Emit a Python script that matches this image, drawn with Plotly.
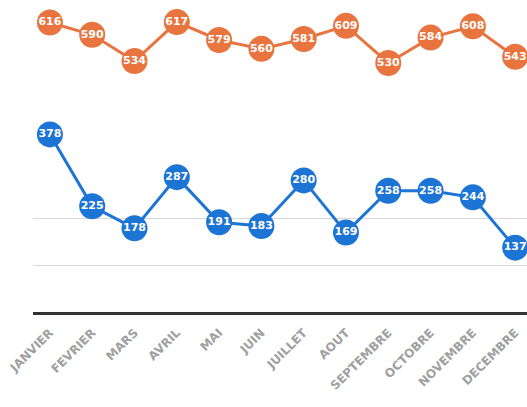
import plotly.graph_objects as go

months = ["JANVIER", "FEVRIER", "MARS", "AVRIL", "MAI", "JUIN", "JUILLET",
          "AOUT", "SEPTEMBRE", "OCTOBRE", "NOVEMBRE", "DECEMBRE"]
orange_vals = [616, 590, 534, 617, 579, 560, 581, 609, 530, 584, 608, 543]
blue_vals = [378, 225, 178, 287, 191, 183, 280, 169, 258, 258, 244, 137]

x = list(range(len(months)))

fig = go.Figure()
for vals, col in [(orange_vals, "#E8743F"), (blue_vals, "#1C74D4")]:
    fig.add_trace(go.Scatter(
        x=x, y=vals, mode="lines+markers+text",
        line=dict(color=col, width=3),
        marker=dict(color=col, size=26),
        text=["<b>%d</b>" % v for v in vals], textposition="middle center",
        textfont=dict(color="white", size=11, family="DejaVu Sans"),
        showlegend=False, cliponaxis=False,
    ))

fig.update_layout(
    width=527, height=407,
    margin=dict(l=33, r=0, t=0, b=95),
    plot_bgcolor="white", paper_bgcolor="white",
    xaxis=dict(range=[-0.4, 11.28], tickvals=x,
               ticktext=["<b>%s</b>" % m for m in months], tickangle=-45,
               showgrid=False, zeroline=False, showline=True, linecolor="#333333",
               linewidth=3, ticks="", ticklabelstandoff=6,
               tickfont=dict(color="#a0a0a0", size=12, family="DejaVu Sans")),
    yaxis=dict(range=[0, 664], tickvals=[100, 200], showticklabels=False,
               showgrid=True, gridcolor="#d8d8d8", gridwidth=1, zeroline=False,
               showline=False),
)

fig.write_html("out.html")
